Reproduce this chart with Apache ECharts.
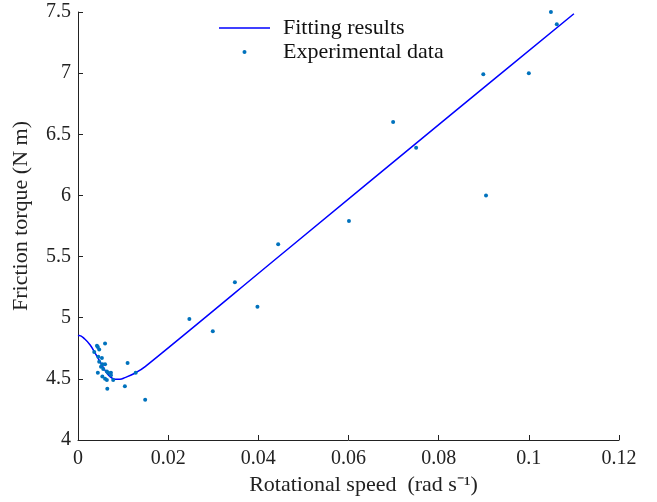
<!DOCTYPE html>
<html>
<head>
<meta charset="utf-8">
<script src="https://cdn.jsdelivr.net/npm/echarts@6/dist/echarts.min.js"></script>
<style>
  html, body { margin: 0; padding: 0; background: #fff; }
  #main { width: 657px; height: 502px; }
</style>
</head>
<body>
<div id="main"></div>
<script type="text/javascript">
    // fitted curve
    let fitSpeed = [0, 0.0003, 0.0015, 0.0027, 0.0038, 0.0049, 0.006, 0.0071, 0.0082, 0.0093, 0.0104, 0.0126, 0.0149, 0.0463, 0.084, 0.110];
    let fitTorque = [4.853, 4.855, 4.826, 4.777, 4.71, 4.64, 4.57, 4.518, 4.497, 4.497, 4.51, 4.546, 4.60, 5.554, 6.699, 7.486];

    // measured points
    let expSpeed = [0.0036, 0.0042, 0.0044, 0.0047, 0.0060, 0.0045, 0.0053, 0.0047, 0.0054, 0.0060,
        0.0051, 0.0056, 0.0044, 0.0064, 0.0067, 0.0073, 0.0054, 0.0060, 0.0064, 0.0073,
        0.0078, 0.0065, 0.0110, 0.0104, 0.0128, 0.0149,
        0.0247, 0.0299, 0.0348, 0.0398, 0.0444, 0.0601, 0.0699, 0.0750, 0.0899, 0.0905,
        0.1000, 0.1049, 0.1062];
    let expTorque = [4.72, 4.77, 4.76, 4.74, 4.79, 4.68, 4.67, 4.64, 4.62, 4.62,
        4.60, 4.58, 4.55, 4.56, 4.55, 4.55, 4.52, 4.50, 4.49, 4.53,
        4.49, 4.42, 4.63, 4.44, 4.55, 4.33,
        4.99, 4.89, 5.29, 5.09, 5.60, 5.79, 6.60, 6.39, 6.99, 6.00,
        7.00, 7.50, 7.40];

    let fitData = fitSpeed.map((v, i) => [v, fitTorque[i]]);
    let expData = expSpeed.map((v, i) => [v, expTorque[i]]);

    let font = 'Liberation Serif';
    let chart = echarts.init(document.getElementById('main'));
    let option = {
        animation: false,
        grid: { left: 78, right: 38, top: 12, bottom: 62 },
        legend: {
            orient: 'vertical',
            left: 214,
            top: 11,
            itemWidth: 51,
            itemHeight: 4,
            itemGap: 0,
            textStyle: { fontFamily: font, fontSize: 22, color: '#111', lineHeight: 24, padding: [0, 0, 0, 8] },
            data: [
                { name: 'Fitting results', icon: 'path://M0,0 H51 V1.5 H0 Z' },
                { name: 'Experimental data', icon: 'circle' }
            ]
        },
        xAxis: {
            type: 'value',
            min: 0,
            max: 0.12,
            interval: 0.02,
            name: 'Rotational speed  (rad s\u207B\u00B9)',
            nameLocation: 'middle',
            nameGap: 26,
            nameTextStyle: { fontFamily: font, fontSize: 22, color: '#222', padding: [0, 0, 0, 30] },
            axisLine: { lineStyle: { color: '#222', width: 1 } },
            axisTick: { inside: true, length: 5, lineStyle: { color: '#222' } },
            axisLabel: { fontFamily: font, fontSize: 20, color: '#222', margin: 9 },
            splitLine: { show: false }
        },
        yAxis: {
            type: 'value',
            min: 4,
            max: 7.5,
            interval: 0.5,
            name: 'Friction torque (N m)',
            nameLocation: 'middle',
            nameGap: 46,
            nameTextStyle: { fontFamily: font, fontSize: 22, color: '#222', padding: [0, 0, 0, 20] },
            axisLine: { show: true, lineStyle: { color: '#222', width: 1 } },
            axisTick: { show: true, inside: true, length: 5, lineStyle: { color: '#222' } },
            axisLabel: { fontFamily: font, fontSize: 20, color: '#222', margin: 7 },
            splitLine: { show: false }
        },
        series: [
            {
                name: 'Fitting results',
                type: 'line',
                data: fitData,
                smooth: 0.4,
                symbol: 'none',
                lineStyle: { color: '#0000ff', width: 1.5 },
                itemStyle: { color: '#0000ff' },
                z: 2
            },
            {
                name: 'Experimental data',
                type: 'scatter',
                data: expData,
                symbolSize: 4,
                itemStyle: { color: '#0072BD', opacity: 1 },
                z: 3
            }
        ]
    };
    chart.setOption(option);
</script>
</body>
</html>
